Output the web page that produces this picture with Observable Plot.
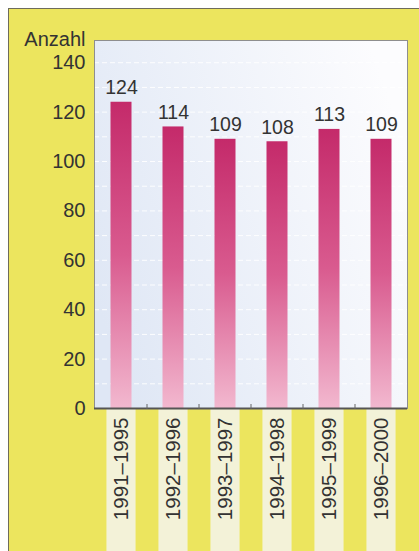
<!DOCTYPE html>
<html><head><meta charset="utf-8">
<script src="https://cdn.jsdelivr.net/npm/d3@7"></script>
<script src="https://cdn.jsdelivr.net/npm/@observablehq/plot@0.6"></script>
<style>
html,body{margin:0;padding:0;background:#fff;}
#wrap{position:relative;width:419px;height:551px;overflow:hidden;}
#panel{position:absolute;left:8px;top:8px;width:411px;height:543px;background:#ece55e;border-left:1.5px solid #6e6c5c;border-top:1.5px solid #6e6c5c;box-sizing:border-box;}
#chart{position:absolute;left:0;top:0;}
</style></head><body>
<div id="wrap"><div id="panel"></div><div id="chart"></div></div>
<script>
const periods = ["1991–1995","1992–1996","1993–1997","1994–1998","1995–1999","1996–2000"];
const counts = [124, 114, 109, 108, 113, 109];
const yTicks = [0, 20, 40, 60, 80, 100, 120, 140];
const gridValues = [10, 20, 30, 40, 50, 60, 70, 80, 90, 100, 110, 120, 130, 140];
const yLabel = "Anzahl";
const data = periods.map((p, i) => ({period: p, count: counts[i]}));

function defs() {
  const g = d3.create("svg:g");
  const d = g.append("defs");
  const bg = d.append("linearGradient").attr("id", "plotbg").attr("x1", 0).attr("y1", 0.7).attr("x2", 1).attr("y2", 0.3);
  bg.append("stop").attr("offset", 0).attr("stop-color", "#dfe7f5");
  bg.append("stop").attr("offset", 1).attr("stop-color", "#fcfcfe");
  const bar = d.append("linearGradient").attr("id", "bargrad").attr("x1", 0).attr("y1", 0).attr("x2", 0).attr("y2", 1);
  bar.append("stop").attr("offset", 0).attr("stop-color", "#c42a6a");
  bar.append("stop").attr("offset", 0.5).attr("stop-color", "#d95b8f");
  bar.append("stop").attr("offset", 1).attr("stop-color", "#f2b8cf");
  return g.node();
}

function stripes(index, scales, values, dim) {
  const g = d3.create("svg:g");
  const x = scales.x, bw = x.bandwidth();
  const y0 = dim.height - dim.marginBottom;
  const w = bw * 0.56;
  for (const p of periods) {
    g.append("rect").attr("x", x(p) + bw / 2 - w / 2).attr("y", y0)
      .attr("width", w).attr("height", dim.marginBottom).attr("fill", "#f3f2d8");
  }
  return g.node();
}

function boundaryTicks(index, scales, values, dim) {
  const g = d3.create("svg:g");
  const x = scales.x;
  const y0 = dim.height - dim.marginBottom;
  for (const p of periods.slice(1)) {
    g.append("line").attr("x1", x(p)).attr("x2", x(p)).attr("y1", y0 - 4).attr("y2", y0 + 1)
      .attr("stroke", "#666").attr("stroke-width", 1);
  }
  return g.node();
}

const chart = Plot.plot({
  width: 419,
  height: 551,
  marginLeft: 94,
  marginRight: 12,
  marginTop: 40,
  marginBottom: 143,
  style: {background: "transparent", fontFamily: "'Liberation Sans', Arial, sans-serif", fontSize: "20px", color: "#333"},
  x: {domain: periods, padding: 0, label: null},
  y: {domain: [0, 149], label: null},
  marks: [
    defs,
    stripes,
    Plot.frame({fill: "url(#plotbg)", stroke: null}),
    Plot.gridY(gridValues, {stroke: "#ffffff", strokeOpacity: 0.9, strokeDasharray: "5,3", strokeWidth: 1}),
    Plot.barY(data, {x: "period", y: "count", fill: "url(#bargrad)", insetLeft: 15.5, insetRight: 15.5}),
    Plot.text(data, {x: "period", y: "count", text: d => String(d.count), dy: -8, lineAnchor: "bottom", fontSize: 19.5, fill: "#333"}),
    Plot.frame({stroke: "#8e8e8e", strokeWidth: 1}),
    Plot.ruleY([0], {stroke: "#555", strokeWidth: 2}),
    boundaryTicks,
    Plot.axisY({ticks: yTicks, tickSize: 0, tickPadding: 9, fontSize: 20, label: null, fill: "#333"}),
    Plot.axisX({tickSize: 0, tickPadding: 9, tickRotate: -90, fontSize: 20.5, label: null, fill: "#333"}),
    Plot.text([yLabel], {frameAnchor: "top-left", text: d => d, textAnchor: "end", dx: -9, dy: 5, lineAnchor: "bottom", fontSize: 20, fill: "#333"})
  ]
});
document.getElementById("chart").appendChild(chart);
</script>
</body></html>
